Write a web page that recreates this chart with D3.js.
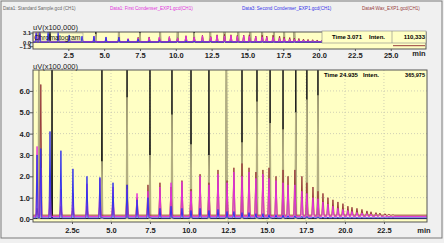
<!DOCTYPE html>
<html>
<head>
<meta charset="utf-8">
<script src="https://cdn.jsdelivr.net/npm/d3@7"></script>
<style>
  body { margin: 0; background: #f0f0f0; }
  svg { display: block; font-family: "Liberation Sans", Arial, sans-serif; }
</style>
</head>
<body>
<div id="vis"></div>
<script>
// retention times (min) of the sample peaks
var peakTimes = [0.26, 0.5, 1.09, 1.79, 2.56, 3.46, 4.29, 5.13, 6.03, 6.67, 7.37, 8.14, 8.85, 9.55, 10.13,
  10.71, 11.28, 11.86, 12.44, 12.88, 13.40, 13.85, 14.29, 14.74, 15.13, 15.58, 16.03, 16.35, 16.79, 17.24,
  17.56, 17.95, 18.27, 18.59, 18.91, 19.23, 19.55, 19.87, 20.19, 20.45, 20.77, 21.09, 21.41, 21.67, 21.99,
  22.24, 22.56, 22.82, 23.08];

// peak apex, uV x100,000
var firstCondenser = [3.4, 2.4, 1.8, 1.4, 1.2, 1.65, 1.9, 1.5, 1.4, 1.2, 1.3, 1.5, 1.7, 1.75, 1.3,
  2.0, 1.6, 2.1, 1.7, 2.2, 2.0, 2.2, 1.9, 2.1, 1.9, 1.8, 1.7, 1.6, 1.6, 1.3,
  1.2, 1.0, 0.95, 0.8, 0.7, 0.6, 0.5, 0.45, 0.4, 0.35, 0.3, 0.28, 0.25, 0.22, 0.2,
  0.18, 0.15, 0.12, 0.1];
var secondCondenser = [3.0, 3.3, 4.1, 3.2, 2.35, 2.0, 1.95, 1.7, 1.6, 0.9, 1.0, 0.5, 0.6, 0.5, 0.4,
  0.5, 0.4, 0.45, 0.35, 0.35, 0.3, 0.3, 0.25, 0.25, 0.2, 0.2, 0.18, 0.16, 0.15, 0.13,
  0.12, 0.1, 0.1, 0.09, 0.09, 0.08, 0.08, 0.08, 0.07, 0.07, 0.07, 0.07, 0.06, 0.06, 0.06,
  0.06, 0.06, 0.06, 0.06];
var wax = [0.5, 6.3, 0.8, 0.6, 0.5, 0.6, 0.8, 0.9, 1.6, 1.0, 1.6, 1.7, 1.5, 1.8, 1.4,
  2.1, 1.7, 2.3, 1.8, 2.4, 2.6, 2.4, 2.2, 2.3, 2.4, 2.0, 2.3, 2.0, 2.3, 2.0,
  1.7, 1.5, 1.3, 1.2, 1.0, 0.9, 0.8, 0.72, 0.6, 0.55, 0.5, 0.45, 0.38, 0.34, 0.3,
  0.28, 0.25, 0.22, 0.2];

// standard sample (off scale peaks) and its grey overlay
var stdTimes = [1.22, 4.42, 6.03, 7.5, 8.91, 10.13, 11.28, 12.4, 13.4, 14.36, 15.2, 16.03, 16.85, 17.56, 18.27];
var stdHeights = [9.5, 9.5, 9.5, 9.5, 9.5, 9.5, 9.5, 9.5, 9.5, 9.5, 9.5, 9.5, 9.5, 9.5, 9.5];
var greyTimes = [0.38, 4.42, 6.03, 7.5, 8.91, 10.13, 11.28, 12.4, 13.4, 14.36, 15.2, 16.03, 16.85, 17.56, 18.27];
var greyHeights = [8, 2.7, 5.7, 3.0, 4.9, 3.5, 3.0, 8, 3.6, 5.5, 4.5, 4.2, 5.0, 5.6, 5.8];

var baselines = [0.02, 0.12, 0.05, 0.18]; // standard, first, second, wax

var legendLabels = ["Data1: Standard Sample.gcd (CH1)", "Data1: First Condenser_EXP1.gcd(CH1)",
  "Data3: Second Condenser_EXP1.gcd(CH1)", "Data4:Wax_EXP1.gcd(CH1)"];
var mainXTicks = [2.5, 5, 7.5, 10, 12.5, 15, 17.5, 20, 22.5];
var mainYTicks = [0, 1, 2, 3, 4, 5, 6];
var topXTicks = [2.5, 5, 7.5, 10, 12.5, 15, 17.5, 20, 22.5, 25];
var topYTicks = [3.1, 0, -1.3];

var W = 444, H = 243;
var YELLOW = "#ffffc4";
var MAG = "#e232dc", BLUE = "#3535ea", BROWN = "#983c3c", OLIVE = "#b3ae82";

var svg = d3.select("#vis").append("svg").attr("width", W).attr("height", H);

svg.append("rect").attr("x", 1).attr("y", 1).attr("width", W - 3).attr("height", H - 6)
  .attr("fill", "#f0f0f0").attr("stroke", "#7a7a7a");

// legend row
var legendX = [3, 110, 242, 362];
var legendColors = ["#666", MAG, BLUE, BROWN];
svg.selectAll(".legend").data(legendLabels).enter().append("text")
  .attr("class", "legend")
  .attr("x", function (d, i) { return legendX[i]; })
  .attr("y", 10)
  .attr("font-size", "4.6px")
  .attr("fill", function (d, i) { return legendColors[i]; })
  .text(function (d) { return d; });

function peakPoints(times, heights, base, hw, end) {
  var pts = [[0, base]];
  times.forEach(function (t, i) {
    pts.push([t - hw, base], [t, heights[i]], [t + hw, base]);
  });
  pts.push([end, base]);
  return pts;
}

function drawTraces(g, x, y, end) {
  var line = d3.line().x(function (d) { return x(d[0]); }).y(function (d) { return y(d[1]); });
  g.append("path").attr("d", line(peakPoints(stdTimes, stdHeights, baselines[0], 0.03, end)))
    .attr("fill", "none").attr("stroke", "#151515").attr("stroke-width", 1);
  greyTimes.forEach(function (t, i) {
    g.append("path").attr("d", line([[t - 0.04, 0], [t, greyHeights[i]], [t + 0.04, 0]]))
      .attr("fill", "none").attr("stroke", OLIVE).attr("stroke-width", 1.6);
  });
  g.append("path").attr("d", line(peakPoints(peakTimes, wax, baselines[3], 0.07, end)))
    .attr("fill", "none").attr("stroke", BROWN).attr("stroke-width", 1);
  g.append("path").attr("d", line(peakPoints(peakTimes, firstCondenser, baselines[1], 0.07, end)))
    .attr("fill", "none").attr("stroke", MAG).attr("stroke-width", 1);
  g.append("path").attr("d", line(peakPoints(peakTimes, secondCondenser, baselines[2], 0.06, end)))
    .attr("fill", "none").attr("stroke", BLUE).attr("stroke-width", 1);
}

var fmt = d3.format(".1f");

// ---------- top overview chart ----------
var topBox = { l: 33, r: 426, t: 32, b: 49 };
var xTop = d3.scaleLinear().domain([0, 27.6]).range([32.5, 428]);
var yTop = d3.scaleLinear().domain([-2.2, 3.3]).range([topBox.b, topBox.t]);

svg.append("clipPath").attr("id", "clipTop").append("rect")
  .attr("x", topBox.l).attr("y", topBox.t).attr("width", topBox.r - topBox.l).attr("height", topBox.b - topBox.t);
svg.append("rect").attr("x", topBox.l).attr("y", topBox.t).attr("width", topBox.r - topBox.l).attr("height", topBox.b - topBox.t)
  .attr("fill", YELLOW);
drawTraces(svg.append("g").attr("clip-path", "url(#clipTop)"), xTop, yTop, 27.6);

svg.append("rect").attr("x", topBox.l).attr("y", 33).attr("width", 50).attr("height", 8)
  .attr("fill", "none").attr("stroke", "#999").attr("stroke-width", 0.6);
svg.append("text").attr("x", 34).attr("y", 39.5).attr("font-size", "7px").attr("fill", "#222").text("Chromatogram");

svg.append("rect").attr("x", topBox.l).attr("y", topBox.t).attr("width", topBox.r - topBox.l).attr("height", topBox.b - topBox.t)
  .attr("fill", "none").attr("stroke", "#555");

// info box
svg.append("rect").attr("x", 322).attr("y", 31).attr("width", 104).attr("height", 12)
  .attr("fill", YELLOW).attr("stroke", "#888").attr("stroke-width", 0.6);
svg.append("line").attr("x1", 392).attr("x2", 392).attr("y1", 31).attr("y2", 43).attr("stroke", "#888").attr("stroke-width", 0.6);
svg.append("line").attr("x1", 393).attr("x2", 425).attr("y1", 45.7).attr("y2", 45.7).attr("stroke", BROWN);
svg.append("text").attr("x", 332).attr("y", 38.5).attr("font-size", "6px").attr("font-weight", "bold").text("Time");
svg.append("text").attr("x", 347).attr("y", 38.5).attr("font-size", "6px").attr("font-weight", "bold").text("3.071");
svg.append("text").attr("x", 369).attr("y", 38.5).attr("font-size", "6px").attr("font-weight", "bold").text("Inten.");
svg.append("text").attr("x", 425).attr("y", 38.5).attr("text-anchor", "end").attr("font-size", "6px").attr("font-weight", "bold").text("110,333");

svg.append("text").attr("x", 33).attr("y", 30).attr("font-size", "7.5px").attr("fill", "#222").text("uV(x100,000)");

var topYAxis = svg.append("g").attr("transform", "translate(" + topBox.l + ",0)")
  .call(d3.axisLeft(yTop).tickValues(topYTicks).tickSize(3).tickFormat(fmt));
var topXAxis = svg.append("g").attr("transform", "translate(0," + topBox.b + ")")
  .call(d3.axisBottom(xTop).tickValues(topXTicks).tickSize(2).tickFormat(fmt));
svg.append("text").attr("x", 419).attr("y", 56).attr("font-size", "7.5px").attr("font-weight", "bold")
  .attr("text-anchor", "middle").attr("fill", "#222").text("min");

// ---------- main chart ----------
var main = { l: 33, r: 427, t: 70, b: 222 };
var x = d3.scaleLinear().domain([0, 25.26]).range([main.l, main.r]);
var y = d3.scaleLinear().domain([-0.14, 6.98]).range([main.b, main.t]);

svg.append("clipPath").attr("id", "clipMain").append("rect")
  .attr("x", main.l).attr("y", main.t).attr("width", main.r - main.l).attr("height", main.b - main.t);
svg.append("rect").attr("x", main.l).attr("y", main.t).attr("width", main.r - main.l).attr("height", main.b - main.t)
  .attr("fill", YELLOW);

var grid = svg.append("g");
grid.selectAll(".vg").data(mainXTicks).enter().append("line")
  .attr("x1", function (d) { return x(d); }).attr("x2", function (d) { return x(d); })
  .attr("y1", main.t).attr("y2", main.b)
  .attr("stroke", "#c4c4b0").attr("stroke-width", 0.8).attr("stroke-dasharray", "1,2");
grid.selectAll(".hg").data(mainYTicks.slice(1)).enter().append("line")
  .attr("x1", main.l).attr("x2", main.r)
  .attr("y1", function (d) { return y(d); }).attr("y2", function (d) { return y(d); })
  .attr("stroke", "#c4c4b0").attr("stroke-width", 0.8).attr("stroke-dasharray", "1,2");

drawTraces(svg.append("g").attr("clip-path", "url(#clipMain)"), x, y, 25.26);

svg.append("rect").attr("x", main.l).attr("y", main.t).attr("width", main.r - main.l).attr("height", main.b - main.t)
  .attr("fill", "none").attr("stroke", "#555");

svg.append("text").attr("x", 33).attr("y", 69).attr("font-size", "7.5px").attr("fill", "#222").text("uV(x100,000)");
svg.append("text").attr("x", 324).attr("y", 76.5).attr("font-size", "6px").attr("font-weight", "bold").text("Time 24.935");
svg.append("text").attr("x", 363).attr("y", 76.5).attr("font-size", "6px").attr("font-weight", "bold").text("Inten.");
svg.append("text").attr("x", 425).attr("y", 76.5).attr("text-anchor", "end").attr("font-size", "5.5px").attr("font-weight", "bold").text("365,975");

var mainYAxis = svg.append("g").attr("transform", "translate(" + main.l + ",0)")
  .call(d3.axisLeft(y).tickValues(mainYTicks).tickSize(3).tickFormat(fmt));
var mainXAxis = svg.append("g").attr("transform", "translate(0," + main.b + ")")
  .call(d3.axisBottom(x).tickValues(mainXTicks).tickSize(2)
    .tickFormat(function (d) { return d === 2.5 ? "2.5c" : fmt(d); }));
svg.append("text").attr("x", 424).attr("y", 233).attr("font-size", "7.5px").attr("font-weight", "bold")
  .attr("text-anchor", "middle").attr("fill", "#222").text("min");

[topYAxis, topXAxis, mainYAxis, mainXAxis].forEach(function (a) {
  a.select(".domain").remove();
  a.selectAll(".tick line").attr("stroke", "#555");
  a.selectAll(".tick text").attr("font-size", "7.5px").attr("font-weight", "bold").attr("fill", "#222")
    .attr("font-family", "Liberation Sans, Arial, sans-serif");
});
topYAxis.selectAll(".tick text").attr("x", -2).attr("font-size", "5.8px");
mainYAxis.selectAll(".tick text").attr("x", -3);
topXAxis.selectAll(".tick text").attr("y", 4);
mainXAxis.selectAll(".tick text").attr("y", 6);
</script>
</body>
</html>
